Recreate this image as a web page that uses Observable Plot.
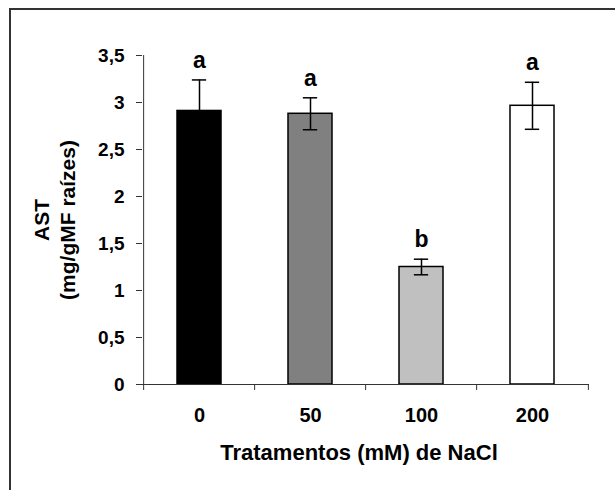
<!DOCTYPE html>
<html>
<head>
<meta charset="utf-8">
<script src="https://cdn.jsdelivr.net/npm/d3@7"></script>
<script src="https://cdn.jsdelivr.net/npm/@observablehq/plot@0.6"></script>
<style>
  html, body { margin: 0; padding: 0; background: #fff; overflow: hidden; }
  #wrap { position: relative; width: 615px; height: 490px; }
  #border { position: absolute; left: 9px; top: 8px; width: 700px; height: 600px;
            border-left: 2px solid #333; border-top: 2px solid #333; }
  #chart { position: absolute; left: 0; top: 0; }
</style>
</head>
<body>
<div id="wrap"><div id="border"></div><div id="chart"></div></div>
<script>
const categories = ["0", "50", "100", "200"];
const means = [2.91, 2.88, 1.25, 2.965];
const errors = [0.33, 0.17, 0.083, 0.25];
const letters = ["a", "a", "b", "a"];
const fills = ["#000000", "#808080", "#c0c0c0", "#ffffff"];
const yTicks = [0, 0.5, 1, 1.5, 2, 2.5, 3, 3.5];
const xTitle = "Tratamentos (mM) de NaCl";
const yTitle1 = "AST";
const yTitle2 = "(mg/gMF raízes)";

const data = categories.map((c, i) => ({
  cat: c, mean: means[i], lo: means[i] - errors[i], hi: means[i] + errors[i],
  letter: letters[i], fill: fills[i]
}));

const W = 615, H = 490;
const mL = 142, mR = 26, mT = 55, mB = 106;
const step = (W - mL - mR) / categories.length;
const font = "'Liberation Sans', Arial, sans-serif";
const fmt = d => String(d).replace(".", ",");

const chart = Plot.plot({
  width: W, height: H,
  marginLeft: mL, marginRight: mR, marginTop: mT, marginBottom: mB,
  style: { fontFamily: font, fontWeight: "bold", color: "#000", background: "transparent" },
  x: { domain: categories, paddingInner: 0.6, paddingOuter: 0.3, axis: null },
  y: { domain: [0, 3.5], axis: null },
  marks: [
    Plot.barY(data, { x: "cat", y: "mean", fill: "fill", stroke: "#000", strokeWidth: 1.5 }),
    Plot.ruleX(data, { x: "cat", y1: "lo", y2: "hi", stroke: "#000", strokeWidth: 1.5 }),
    Plot.tickY(data, { x: "cat", y: "hi", stroke: "#000", strokeWidth: 1.5, insetLeft: 14.85, insetRight: 14.85 }),
    Plot.tickY(data, { x: "cat", y: "lo", stroke: "#000", strokeWidth: 1.5, insetLeft: 14.85, insetRight: 14.85 }),
    Plot.text(data, { x: "cat", y: "hi", text: "letter", dy: -12, lineAnchor: "bottom",
      fontSize: 23, fontWeight: "bold", fill: "#000" }),
    // axis lines
    Plot.ruleY([0], { stroke: "#333", strokeWidth: 1 }),
    Plot.ruleX([categories[0]], { dx: -step / 2, stroke: "#333", strokeWidth: 1 }),
    // y ticks and labels
    Plot.axisY({ ticks: yTicks, tickFormat: fmt, tickSize: 6, tickPadding: 12, label: null,
      fontSize: 19, stroke: "#333", fill: "#000" }),
    // x boundary ticks
    Plot.axisX({ ticks: categories, tickFormat: () => "", tickSize: 6, dx: -step / 2, stroke: "#333", label: null }),
    Plot.axisX({ ticks: categories.slice(-1), tickFormat: () => "", tickSize: 6, dx: step / 2, stroke: "#333", label: null }),
    // x tick labels
    Plot.axisX({ ticks: categories, tickSize: 0, tickPadding: 23, fontSize: 20, fill: "#000", label: null }),
    // titles
    Plot.text([xTitle], { text: d => d, frameAnchor: "bottom", dy: 68, dx: -7, lineAnchor: "middle",
      textAnchor: "middle", fontSize: 22, fontWeight: "bold", fill: "#000" }),
    Plot.text([yTitle1], { text: d => d, frameAnchor: "left", dx: -100, rotate: -90, lineAnchor: "middle",
      textAnchor: "middle", fontSize: 21, fontWeight: "bold", fill: "#000" }),
    Plot.text([yTitle2], { text: d => d, frameAnchor: "left", dx: -74, rotate: -90, lineAnchor: "middle",
      textAnchor: "middle", fontSize: 21, fontWeight: "bold", fill: "#000" })
  ]
});
document.getElementById("chart").appendChild(chart);
</script>
</body>
</html>
